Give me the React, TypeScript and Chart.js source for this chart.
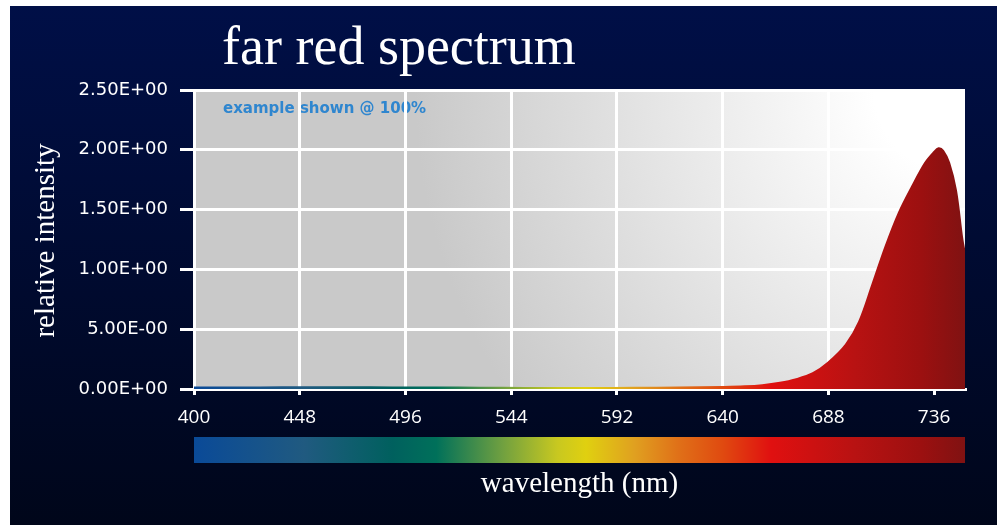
import React, { useEffect, useRef } from 'react';
import { Chart, registerables } from 'chart.js';

Chart.register(...registerables);

const TITLE = 'far red spectrum';
const Y_TITLE = 'relative intensity';
const X_TITLE = 'wavelength (nm)';
const NOTE = 'example shown @ 100%';

const WAVELENGTHS = [400, 420, 440, 460, 480, 500, 520, 540, 560, 580, 600, 620, 640, 650, 658, 666, 673, 681, 688, 696, 702, 708, 714, 720, 726, 732, 736, 738, 740, 742.7, 745.8, 748.7, 750];
const INTENSITY = [0.01, 0.01, 0.012, 0.012, 0.012, 0.01, 0.01, 0.008, 0.006, 0.006, 0.008, 0.01, 0.015, 0.02, 0.03, 0.05, 0.078, 0.13, 0.22, 0.37, 0.56, 0.87, 1.19, 1.47, 1.69, 1.89, 1.98, 2.01, 1.99, 1.89, 1.66, 1.25, 1.12];

const X_MIN = 400;
const X_MAX = 750;
const X_TICKS = [400, 448, 496, 544, 592, 640, 688, 736];
const Y_TICKS = [0, 0.5, 1, 1.5, 2, 2.5];
const Y_TICK_LABELS = ['0.00E+00', '5.00E-00', '1.00E+00', '1.50E+00', '2.00E+00', '2.50E+00'];

const SPECTRUM_NM = [400, 450, 490, 510, 540, 565, 578, 600, 620, 640, 662, 700, 730, 750];
const SPECTRUM_COLORS = ['#0a4a98', '#205a80', '#00605e', '#00705a', '#70a040', '#c8c820', '#e0d010', '#e0a020', '#e07018', '#e04a10', '#e01010', '#b81212', '#9c1010', '#801212'];

function spectrumGradient(ctx: CanvasRenderingContext2D, x0: number, x1: number) {
  const g = ctx.createLinearGradient(x0, 0, x1, 0);
  SPECTRUM_NM.forEach((nm, i) => {
    g.addColorStop((nm - X_MIN) / (X_MAX - X_MIN), SPECTRUM_COLORS[i]);
  });
  return g;
}

const bgPlugin = {
  id: 'bgPlugin',
  beforeDraw(chart: any) {
    const { ctx, chartArea: ca, width, height } = chart;
    const xs = chart.scales.x;
    ctx.save();
    ctx.fillStyle = '#ffffff';
    ctx.fillRect(0, 0, width, height);
    const g = ctx.createLinearGradient(0, 6, 0, height);
    g.addColorStop(0, '#000f47');
    g.addColorStop(1, '#00061a');
    ctx.fillStyle = g;
    ctx.fillRect(10, 6, width - 10, height - 6);

    // plot background
    const r = ctx.createRadialGradient(ca.right - 10, ca.top, 0, ca.right - 10, ca.top, 540);
    r.addColorStop(0, '#ffffff');
    r.addColorStop(0.15, '#ffffff');
    r.addColorStop(1, '#c9c9c9');
    ctx.fillStyle = r;
    ctx.fillRect(ca.left, ca.top, ca.right - ca.left, ca.bottom - ca.top);

    // title
    ctx.fillStyle = '#ffffff';
    ctx.font = '54px "Liberation Serif"';
    ctx.textAlign = 'left';
    ctx.textBaseline = 'alphabetic';
    ctx.fillText(TITLE, 222, 64);

    // note
    ctx.fillStyle = '#2f86cf';
    ctx.font = 'bold 15px "DejaVu Sans"';
    ctx.fillText(NOTE, ca.left + 29, ca.top + 23);

    // y title
    ctx.save();
    ctx.fillStyle = '#ffffff';
    ctx.font = '29px "Liberation Serif"';
    ctx.translate(54, (ca.top + ca.bottom) / 2 + 1);
    ctx.rotate(-Math.PI / 2);
    ctx.textAlign = 'center';
    ctx.fillText(Y_TITLE, 0, 0);
    ctx.restore();

    // x title
    ctx.fillStyle = '#ffffff';
    ctx.font = '29px "Liberation Serif"';
    ctx.textAlign = 'center';
    ctx.fillText(X_TITLE, (ca.left + ca.right) / 2, ca.bottom + 103);

    // spectrum bar
    const x0 = xs.getPixelForValue(X_MIN);
    const x1 = xs.getPixelForValue(X_MAX);
    ctx.fillStyle = spectrumGradient(ctx, x0, x1);
    ctx.fillRect(x0, ca.bottom + 48, x1 - x0, 26);
    ctx.restore();
  },
};

export default function App() {
  const ref = useRef<HTMLCanvasElement>(null);
  useEffect(() => {
    if (!ref.current) return;
    const fillColor = (c: any) => {
      const chart = c.chart;
      if (!chart.chartArea) return '#c01010';
      const xs = chart.scales.x;
      return spectrumGradient(chart.ctx, xs.getPixelForValue(X_MIN), xs.getPixelForValue(X_MAX));
    };
    const chart = new Chart(ref.current, {
      type: 'line',
      data: {
        datasets: [
          {
            data: WAVELENGTHS.map((w, i) => ({ x: w, y: INTENSITY[i] })),
            borderColor: fillColor,
            backgroundColor: fillColor,
            borderWidth: 2.5,
            fill: 'origin',
            pointRadius: 0,
            tension: 0.35,
          },
        ],
      },
      options: {
        animation: false,
        responsive: false,
        devicePixelRatio: 1,
        layout: { padding: { left: 0, top: 90, right: 32, bottom: 0 } },
        plugins: { legend: { display: false }, tooltip: { enabled: false }, title: { display: false } },
        scales: {
          x: {
            type: 'linear',
            min: X_MIN,
            max: X_MAX,
            afterBuildTicks: (s: any) => {
              s.ticks = X_TICKS.map((v) => ({ value: v }));
            },
            afterFit: (s: any) => {
              s.height = 136;
            },
            ticks: {
              color: '#ffffff',
              font: { family: '"Open Sans"', size: 19 },
              padding: 11,
              maxRotation: 0,
              autoSkip: false,
              callback: (v: any) => String(v),
            },
            grid: { color: '#ffffff', lineWidth: 3, tickLength: 6, tickColor: '#ffffff' },
            border: { display: true, color: '#ffffff', width: 3 },
          },
          y: {
            min: 0,
            max: 2.5,
            afterBuildTicks: (s: any) => {
              s.ticks = Y_TICKS.map((v) => ({ value: v }));
            },
            afterFit: (s: any) => {
              s.width = 194;
            },
            ticks: {
              color: '#ffffff',
              font: { family: '"DejaVu Sans"', size: 18 },
              padding: 12,
              autoSkip: false,
              callback: (v: any) => Y_TICK_LABELS[Y_TICKS.indexOf(Number(v))],
            },
            grid: { color: '#ffffff', lineWidth: 3, tickLength: 14, tickColor: '#ffffff' },
            border: { display: true, color: '#ffffff', width: 3 },
          },
        },
      },
      plugins: [bgPlugin],
    } as any);
    return () => chart.destroy();
  }, []);
  return (
    <div style={{ position: 'fixed', left: 0, top: 0, width: 997, height: 525 }}>
      <canvas ref={ref} width={997} height={525} style={{ display: 'block' }} />
    </div>
  );
}
